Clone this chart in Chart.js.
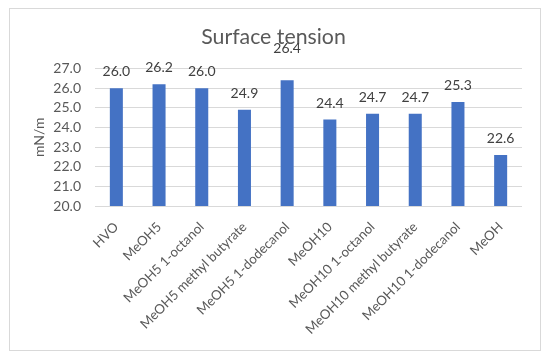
<!DOCTYPE html>
<html>
<head>
<meta charset="utf-8">
<script src="https://cdn.jsdelivr.net/npm/chart.js@4/dist/chart.umd.min.js"></script>
<style>
html,body{margin:0;padding:0;background:#fff;}
#wrap{width:550px;height:360px;position:relative;}
</style>
</head>
<body>
<div id="wrap"><canvas id="c" width="550" height="360"></canvas></div>
<script>
const categories = ["HVO","MeOH5","MeOH5 1-octanol","MeOH5 methyl butyrate","MeOH5 1-dodecanol","MeOH10","MeOH10 1-octanol","MeOH10 methyl butyrate","MeOH10 1-dodecanol","MeOH"];
const surfaceTension = [26.0, 26.2, 26.0, 24.9, 26.4, 24.4, 24.7, 24.7, 25.3, 22.6];
const yTicks = [20,21,22,23,24,25,26,27];

const FONT = "Lato, 'Open Sans', sans-serif";

const borderPlugin = {
  id: 'outerBorder',
  beforeDraw(chart) {
    const ctx = chart.ctx;
    ctx.save();
    ctx.fillStyle = '#ffffff';
    ctx.fillRect(0,0,chart.width,chart.height);
    ctx.strokeStyle = '#d9d9d9';
    ctx.lineWidth = 1;
    ctx.strokeRect(9.5, 8.5, 531, 342);
    ctx.restore();
  }
};

const valueLabels = {
  id: 'valueLabels',
  afterDatasetsDraw(chart, args, opts) {
    const ctx = chart.ctx;
    const meta = chart.getDatasetMeta(0);
    const data = chart.data.datasets[0].data;
    ctx.save();
    ctx.font = "14px " + FONT;
    ctx.fillStyle = '#404040';
    ctx.textAlign = 'center';
    ctx.textBaseline = 'middle';
    meta.data.forEach((bar, i) => {
      const lift = (opts.lift && opts.lift[i]) ? opts.lift[i] : 16.5;
      ctx.fillText(data[i].toFixed(1), bar.x, bar.y - lift);
    });
    ctx.restore();
  }
};

new Chart(document.getElementById('c'), {
  type: 'bar',
  data: {
    labels: categories,
    datasets: [{
      data: surfaceTension,
      backgroundColor: '#4472C4',
      borderWidth: 0,
      categoryPercentage: 1.0,
      barPercentage: 0.305
    }]
  },
  options: {
    responsive: false,
    animation: false,
    devicePixelRatio: 1,
    layout: { padding: { left: 25, right: 28, top: 0, bottom: 12 } },
    plugins: {
      legend: { display: false },
      tooltip: { enabled: false },
      title: {
        display: true,
        text: 'Surface tension',
        color: '#595959',
        font: { family: FONT, size: 21.3, weight: 'normal' },
        padding: { top: 24, bottom: 19 }
      },
      valueLabels: { lift: { 4: 32 } }
    },
    scales: {
      x: {
        grid: { display: false, drawTicks: false },
        border: { display: false },
        ticks: {
          color: '#595959',
          font: { family: FONT, size: 13.3 },
          maxRotation: 45, minRotation: 45,
          autoSkip: false,
          padding: 13
        },
        afterFit(scale) { scale.height = 142; }
      },
      y: {
        min: 20, max: 27,
        afterBuildTicks(scale) { scale.ticks = yTicks.map(v => ({ value: v })); },
        grid: { color: '#d9d9d9', drawTicks: false, lineWidth: 1 },
        border: { display: false },
        ticks: {
          color: '#595959',
          font: { family: FONT, size: 14 },
          padding: 14,
          autoSkip: false,
          callback: v => Number(v).toFixed(1)
        },
        title: {
          display: true,
          text: 'mN/m',
          color: '#595959',
          font: { family: FONT, size: 14, weight: 'normal' },
          padding: { top: 6, bottom: 0 }
        },
        afterFit(scale) { scale.width = 70; }
      }
    }
  },
  plugins: [borderPlugin, valueLabels]
});
</script>
</body>
</html>
